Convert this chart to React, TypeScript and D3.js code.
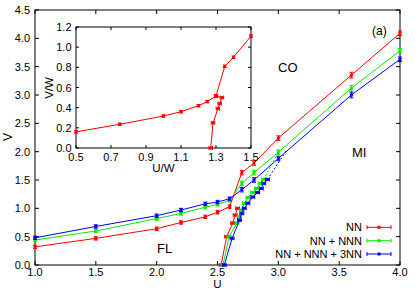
import React from "react";
import * as d3 from "d3";

// ---- main panel data ----
const U_MAIN = [1.0, 1.5, 2.0, 2.2, 2.4, 2.5, 2.6, 2.7, 2.8, 3.0, 3.6, 4.0];
const V_NN = [0.32, 0.47, 0.64, 0.75, 0.85, 0.93, 1.03, 1.63, 1.80, 2.24, 3.35, 4.09];
const V_NNN = [0.44, 0.60, 0.82, 0.91, 1.02, 1.07, 1.14, 1.44, 1.63, 1.99, 3.12, 3.78];
const V_3NN = [0.48, 0.68, 0.87, 0.97, 1.08, 1.11, 1.17, 1.33, 1.50, 1.88, 3.00, 3.63];
const VERR = [0.03, 0.03, 0.03, 0.03, 0.03, 0.03, 0.03, 0.04, 0.04, 0.04, 0.05, 0.04];

const U_LOW_NN = [2.53, 2.575, 2.625, 2.645, 2.665];
const V_LOW_NN = [0.0, 0.5, 0.74, 0.88, 1.0];
const U_LOW_NNN = [2.545, 2.595, 2.66, 2.68, 2.70, 2.72, 2.75, 2.79, 2.82, 2.85, 2.88];
const V_LOW_NNN = [0.0, 0.5, 0.74, 0.85, 0.97, 1.09, 1.19, 1.28, 1.35, 1.44, 1.51];
const U_LOW_3NN = [2.556, 2.62, 2.68, 2.70, 2.72, 2.75, 2.79, 2.83, 2.86, 2.88, 2.91];
const V_LOW_3NN = [0.0, 0.47, 0.79, 0.91, 1.0, 1.09, 1.2, 1.28, 1.35, 1.44, 1.51];
const UERR_LOW = 0.016;
const DASH_END_NNN = [3.0, 1.99];
const DASH_END_3NN = [3.07, 2.03];

const X_TICKS = [1.0, 1.5, 2.0, 2.5, 3.0, 3.5, 4.0];
const Y_TICKS = [0.0, 0.5, 1.0, 1.5, 2.0, 2.5, 3.0, 3.5, 4.0, 4.5];

// ---- inset data ----
const UW_1 = [0.5, 0.75, 1.0, 1.1, 1.2, 1.25, 1.3, 1.35, 1.4, 1.5];
const VW_1 = [0.16, 0.235, 0.317, 0.36, 0.42, 0.46, 0.515, 0.81, 0.9, 1.11];
const UW_2 = [1.27, 1.283, 1.311, 1.321, 1.334, 1.3];
const VW_2 = [0.0, 0.25, 0.39, 0.44, 0.5, 0.515];
const INSET_X_TICKS = [0.5, 0.7, 0.9, 1.1, 1.3, 1.5];
const INSET_Y_TICKS = [0.0, 0.2, 0.4, 0.6, 0.8, 1.0, 1.2];

const SERIES = ["NN", "NN + NNN", "NN + NNN + 3NN"];
const COLORS = ["#ff0000", "#00ee00", "#0000ff"];

const FONT = "'Liberation Sans', Arial, Helvetica, sans-serif";

export default function App() {
  const W = 415, H = 291;
  const x = d3.scaleLinear().domain([1, 4]).range([35, 400]);
  const y = d3.scaleLinear().domain([0, 4.5]).range([265, 10]);
  const ix = d3.scaleLinear().domain([0.5, 1.5]).range([76, 251]);
  const iy = d3.scaleLinear().domain([0, 1.2]).range([148, 27]);

  const line = d3.line<[number, number]>().x((d) => x(d[0])).y((d) => y(d[1]));
  const iline = d3.line<[number, number]>().x((d) => ix(d[0])).y((d) => iy(d[1]));

  const upper = [V_NN, V_NNN, V_3NN];
  const lowerU = [U_LOW_NN, U_LOW_NNN, U_LOW_3NN];
  const lowerV = [V_LOW_NN, V_LOW_NNN, V_LOW_3NN];
  const dashEnds = [null, DASH_END_NNN, DASH_END_3NN];

  const sq = (cx: number, cy: number, c: string, k: string) => (
    <rect key={k} x={cx - 1.5} y={cy - 1.5} width={3} height={3} fill={c} />
  );
  const vErr = (cx: number, y1: number, y2: number, c: string, k: string) => (
    <g key={k} stroke={c} strokeWidth={1}>
      <line x1={cx} x2={cx} y1={y1} y2={y2} />
      <line x1={cx - 2} x2={cx + 2} y1={y1} y2={y1} />
      <line x1={cx - 2} x2={cx + 2} y1={y2} y2={y2} />
    </g>
  );
  const hErr = (cy: number, x1: number, x2: number, c: string, k: string) => (
    <g key={k} stroke={c} strokeWidth={1}>
      <line x1={x1} x2={x2} y1={cy} y2={cy} />
      <line x1={x1} x2={x1} y1={cy - 2} y2={cy + 2} />
      <line x1={x2} x2={x2} y1={cy - 2} y2={cy + 2} />
    </g>
  );

  return (
    <svg
      width={W}
      height={H}
      style={{ position: "absolute", left: 0, top: 0, background: "#fff" }}
      fontFamily={FONT}
    >
      <rect x={0} y={0} width={W} height={H} fill="#fff" />
      {/* main frame */}
      <rect x={35} y={10} width={365} height={255} fill="none" stroke="#000" strokeWidth={1} />
      {X_TICKS.map((t) => (
        <g key={"xt" + t}>
          <line x1={x(t)} x2={x(t)} y1={265} y2={261} stroke="#000" />
          <line x1={x(t)} x2={x(t)} y1={10} y2={14} stroke="#000" />
          <text x={x(t)} y={275.5} fontSize={11} textAnchor="middle">
            {t.toFixed(1)}
          </text>
        </g>
      ))}
      {Y_TICKS.map((t) => (
        <g key={"yt" + t}>
          <line x1={35} x2={39} y1={y(t)} y2={y(t)} stroke="#000" />
          <line x1={400} x2={396} y1={y(t)} y2={y(t)} stroke="#000" />
          <text x={30} y={y(t) + 4} fontSize={11} textAnchor="end">
            {t.toFixed(1)}
          </text>
        </g>
      ))}
      <text x={217.5} y={288.3} fontSize={11.5} textAnchor="middle">U</text>
      <text transform="translate(12,137) rotate(-90)" fontSize={12} textAnchor="middle">V</text>

      {/* region labels */}
      <text x={372} y={35} fontSize={12}>(a)</text>
      <text x={278} y={71.5} fontSize={13}>CO</text>
      <text x={352} y={156.5} fontSize={13}>MI</text>
      <text x={157} y={253} fontSize={13}>FL</text>

      {/* main series */}
      {[0, 1, 2].map((s) => {
        const c = COLORS[s];
        const pts = U_MAIN.map((u, i) => [u, upper[s][i]] as [number, number]);
        const lpts = lowerU[s].map((u, i) => [u, lowerV[s][i]] as [number, number]);
        const de = dashEnds[s];
        return (
          <g key={"s" + s}>
            <path d={line(pts) || ""} fill="none" stroke={c} strokeWidth={1} />
            {pts.map((p, i) => vErr(x(p[0]), y(p[1] - VERR[i]), y(p[1] + VERR[i]), c, "ve" + i))}
            {pts.map((p, i) => sq(x(p[0]), y(p[1]), c, "m" + i))}
            <path d={line(lpts) || ""} fill="none" stroke={c} strokeWidth={1} />
            {de && (
              <path
                d={line([lpts[lpts.length - 1], de as [number, number]]) || ""}
                fill="none"
                stroke={c}
                strokeWidth={1}
                strokeDasharray="2,2"
              />
            )}
            {lpts.map((p, i) => hErr(y(p[1]), x(p[0] - UERR_LOW), x(p[0] + UERR_LOW), c, "he" + i))}
            {lpts.map((p, i) => sq(x(p[0]), y(p[1]), c, "lm" + i))}
          </g>
        );
      })}

      {/* legend */}
      {SERIES.map((name, i) => {
        const ly = [227.3, 240.7, 254][i];
        const c = COLORS[i];
        return (
          <g key={"lg" + i}>
            <text x={362} y={ly + 4} fontSize={11} textAnchor="end">{name}</text>
            {hErr(ly, 367, 391, c, "lge")}
            {sq(379, ly, c, "lgm")}
          </g>
        );
      })}

      {/* inset */}
      <rect x={76} y={27} width={175} height={121} fill="#fff" stroke="#000" strokeWidth={1} />
      {INSET_X_TICKS.map((t) => (
        <g key={"ixt" + t}>
          <line x1={ix(t)} x2={ix(t)} y1={148} y2={145} stroke="#000" />
          <line x1={ix(t)} x2={ix(t)} y1={27} y2={30} stroke="#000" />
          <text x={ix(t)} y={160.5} fontSize={11} textAnchor="middle">{t.toFixed(1)}</text>
        </g>
      ))}
      {INSET_Y_TICKS.map((t) => (
        <g key={"iyt" + t}>
          <line x1={76} x2={79} y1={iy(t)} y2={iy(t)} stroke="#000" />
          <line x1={251} x2={248} y1={iy(t)} y2={iy(t)} stroke="#000" />
          <text x={71.5} y={iy(t) + 4} fontSize={11} textAnchor="end">{t.toFixed(1)}</text>
        </g>
      ))}
      <text x={163.5} y={172} fontSize={11.5} textAnchor="middle">U/W</text>
      <text transform="translate(53,88) rotate(-90)" fontSize={11.5} textAnchor="middle">V/W</text>
      {(() => {
        const c = COLORS[0];
        const p1 = UW_1.map((u, i) => [u, VW_1[i]] as [number, number]);
        const p2 = UW_2.map((u, i) => [u, VW_2[i]] as [number, number]);
        return (
          <g>
            <path d={iline(p1) || ""} fill="none" stroke={c} strokeWidth={1} />
            <path d={iline(p2) || ""} fill="none" stroke={c} strokeWidth={1} />
            {p1.map((p, i) => vErr(ix(p[0]), iy(p[1] - 0.012), iy(p[1] + 0.012), c, "ive" + i))}
            {p1.map((p, i) => sq(ix(p[0]), iy(p[1]), c, "im" + i))}
            {p2.map((p, i) => hErr(iy(p[1]), ix(p[0] - 0.01), ix(p[0] + 0.01), c, "ihe" + i))}
            {p2.map((p, i) => sq(ix(p[0]), iy(p[1]), c, "im2" + i))}
          </g>
        );
      })()}
    </svg>
  );
}
